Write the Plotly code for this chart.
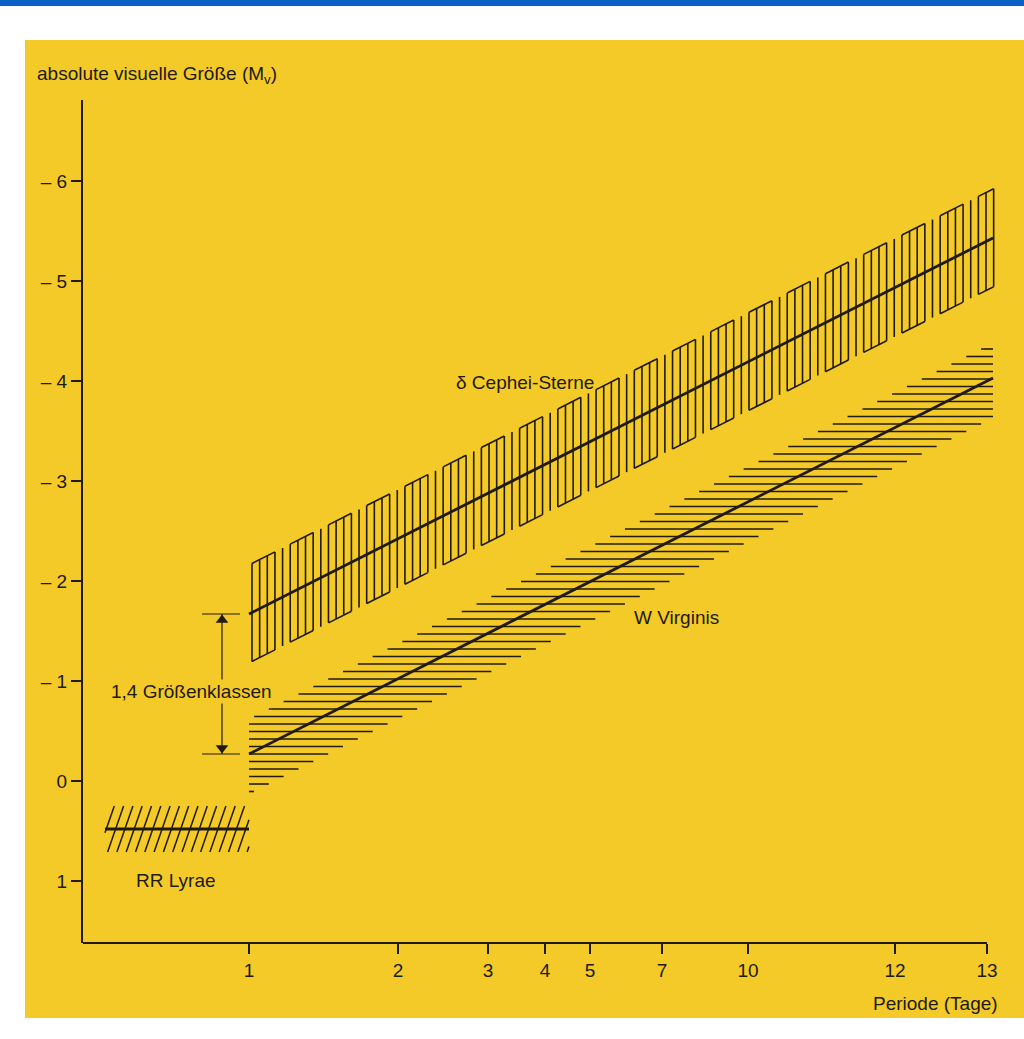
import numpy as np
import plotly.graph_objects as go

# ---- axis definitions -------------------------------------------------------
# Period axis is hand-spaced: labels and their positions along the axis
PERIOD_LABELS = ["1", "2", "3", "4", "5", "7", "10", "12", "13"]
PERIOD_POS = [0, 149, 239, 296, 341, 413, 499, 646, 738]

MAG_TICKS = [-6, -5, -4, -3, -2, -1, 0, 1]
MAG_LABELS = ["– 6", "– 5", "– 4", "– 3", "– 2", "– 1", "0", "1"]

# ---- period-luminosity relations (axis position, absolute magnitude) -------
CEPHEI_POS = [0, 744]
CEPHEI_MAG = [-1.67, -5.43]
CEPHEI_SPREAD = [0.49, 0.49]      # half width above / below the relation

WVIR_POS = [0, 744]
WVIR_MAG = [-0.27, -4.03]
WVIR_SPREAD = [0.35, 0.40]

RRLYR_POS = [-144, 0]
RRLYR_MAG = [0.48, 0.48]
RRLYR_SPREAD = [0.23, 0.23]

# magnitude offset between the two Cepheid classes at P = 1 d
OFFSET_POS = -27
OFFSET_MAG = [-1.67, -0.27]

INK = "#211a10"
PAPER = "#f4ca28"
FONT = "Liberation Sans, Arial, sans-serif"


def relation(pos, mag):
    slope = (mag[1] - mag[0]) / (pos[1] - pos[0])
    return lambda x: mag[0] + slope * (x - pos[0]), slope


def segments(pairs):
    xs, ys = [], []
    for (x0, y0), (x1, y1) in pairs:
        xs += [x0, x1, None]
        ys += [y0, y1, None]
    return xs, ys


# δ Cephei band: vertical hatching in groups of four framed strokes + one loose stroke
ceph, _ = relation(CEPHEI_POS, CEPHEI_MAG)
up, dn = CEPHEI_SPREAD
step = 7.646
stroke_x = [3 + step * k for k in range(200) if 3 + step * k <= CEPHEI_POS[1] + 1]
ceph_pairs = []
groups = {}
for k, x in enumerate(stroke_x):
    ceph_pairs.append(((x, ceph(x) - up), (x, ceph(x) + dn)))
    if k % 5 < 4:
        groups.setdefault(k // 5, []).append(x)
for xs_g in groups.values():
    a, b = xs_g[0], xs_g[-1]
    if b > a:
        ceph_pairs.append(((a, ceph(a) - up), (b, ceph(b) - up)))
        ceph_pairs.append(((a, ceph(a) + dn), (b, ceph(b) + dn)))
ceph_hx, ceph_hy = segments(ceph_pairs)

# W Virginis band: horizontal hatching
wvir, wslope = relation(WVIR_POS, WVIR_MAG)
wup, wdn = WVIR_SPREAD
wv_pairs = []
for k in range(-60, 10):
    m = WVIR_MAG[0] + 0.075 * k
    left = WVIR_POS[0] + (m + wup - WVIR_MAG[0]) / wslope
    right = WVIR_POS[0] + (m - wdn - WVIR_MAG[0]) / wslope
    left, right = max(left, WVIR_POS[0]), min(right, WVIR_POS[1])
    if right - left > 1:
        wv_pairs.append(((left, m), (right, m)))
wv_hx, wv_hy = segments(wv_pairs)

# RR Lyrae: oblique hatching
r_top = RRLYR_MAG[0] - RRLYR_SPREAD[0]
r_bot = RRLYR_MAG[0] + RRLYR_SPREAD[1]
lean = 16.0
rr_pairs = []
x0 = RRLYR_POS[0] - lean
while x0 <= RRLYR_POS[1]:
    xa, ya, xb, yb = x0, r_bot, x0 + lean, r_top
    # clip stroke to the period interval
    if xa < RRLYR_POS[0]:
        t = (RRLYR_POS[0] - xa) / lean
        xa, ya = RRLYR_POS[0], r_bot + (r_top - r_bot) * t
    if xb > RRLYR_POS[1]:
        t = (xb - RRLYR_POS[1]) / lean
        xb, yb = RRLYR_POS[1], r_top - (r_top - r_bot) * t
    if xb - xa > 1:
        rr_pairs.append(((xa, ya), (xb, yb)))
    x0 += 9.3
rr_hx, rr_hy = segments(rr_pairs)

fig = go.Figure()


def add_lines(x, y, width):
    fig.add_trace(go.Scatter(x=x, y=y, mode="lines", hoverinfo="skip",
                             line=dict(color=INK, width=width), showlegend=False))


add_lines(ceph_hx, ceph_hy, 1.6)
add_lines(wv_hx, wv_hy, 1.6)
add_lines(rr_hx, rr_hy, 1.5)
add_lines(CEPHEI_POS, CEPHEI_MAG, 2.8)
add_lines(WVIR_POS, WVIR_MAG, 2.8)
add_lines(RRLYR_POS, RRLYR_MAG, 2.8)

# offset marker: caps, shaft and arrow tips
cap_x, cap_y = segments([((OFFSET_POS - 20, m), (OFFSET_POS + 18, m)) for m in OFFSET_MAG])
add_lines(cap_x, cap_y, 1.2)
add_lines([OFFSET_POS, OFFSET_POS], OFFSET_MAG, 1.2)
fig.add_trace(go.Scatter(
    x=[OFFSET_POS, OFFSET_POS],
    y=[OFFSET_MAG[0] + 0.06, OFFSET_MAG[1] - 0.06],
    mode="markers", hoverinfo="skip", showlegend=False,
    marker=dict(symbol=["triangle-up", "triangle-down"], size=11, color=INK,
                line=dict(width=0)),
))

L, R, T, B = 83, 25, 100, 96
W, H = 1024, 1039
pw, ph = W - L - R, H - T - B


def px_x(p):
    return (p - L) / pw


def px_y(p):
    return (H - B - p) / ph


shapes = [
    dict(type="rect", xref="paper", yref="paper", x0=px_x(25), x1=px_x(1024),
         y0=px_y(1018), y1=px_y(40), fillcolor=PAPER, line=dict(width=0), layer="below"),
    dict(type="rect", xref="paper", yref="paper", x0=px_x(0), x1=px_x(1024),
         y0=px_y(6), y1=px_y(0), fillcolor="#0b62c4", line=dict(width=0), layer="below"),
    dict(type="line", xref="x", yref="y domain", x0=-166, x1=PERIOD_POS[-1], y0=0, y1=0,
         line=dict(color=INK, width=2)),
]

annotations = [
    dict(x=-58, y=-0.90, xref="x", yref="y", text="1,4 Größenklassen", showarrow=False,
         bgcolor=PAPER, font=dict(size=19)),
    dict(x=276, y=-3.99, xref="x", yref="y", text="δ Cephei-Sterne", showarrow=False,
         font=dict(size=19)),
    dict(x=427, y=-1.64, xref="x", yref="y", text="W Virginis", showarrow=False,
         font=dict(size=19)),
    dict(x=-73, y=0.99, xref="x", yref="y", text="RR Lyrae", showarrow=False,
         font=dict(size=19)),
    dict(x=px_x(35), y=px_y(75), xref="paper", yref="paper", xanchor="left",
         yanchor="middle", text="absolute visuelle Größe (M<sub>v</sub>)",
         showarrow=False, font=dict(size=19)),
    dict(x=px_x(1000), y=px_y(1003), xref="paper", yref="paper", xanchor="right",
         yanchor="middle", text="Periode (Tage)", showarrow=False, font=dict(size=19)),
]

fig.update_layout(
    width=W, height=H,
    margin=dict(l=L, r=R, t=T, b=B, pad=0),
    paper_bgcolor="white", plot_bgcolor="rgba(0,0,0,0)",
    font=dict(family=FONT, color=INK, size=19),
    shapes=shapes, annotations=annotations, showlegend=False,
    xaxis=dict(range=[-166, 750], tickvals=PERIOD_POS, ticktext=PERIOD_LABELS,
               ticks="outside", ticklen=10, tickwidth=1.5, tickcolor=INK,
               showgrid=False, zeroline=False, showline=False,
               tickfont=dict(size=19)),
    yaxis=dict(range=[1.62, -6.81], tickvals=MAG_TICKS, ticktext=MAG_LABELS,
               ticks="outside", ticklen=10, tickwidth=1.5, tickcolor=INK,
               showgrid=False, zeroline=False, showline=True, linecolor=INK,
               linewidth=2, tickfont=dict(size=19)),
)

fig.write_html("out.html", config={"displayModeBar": False})
